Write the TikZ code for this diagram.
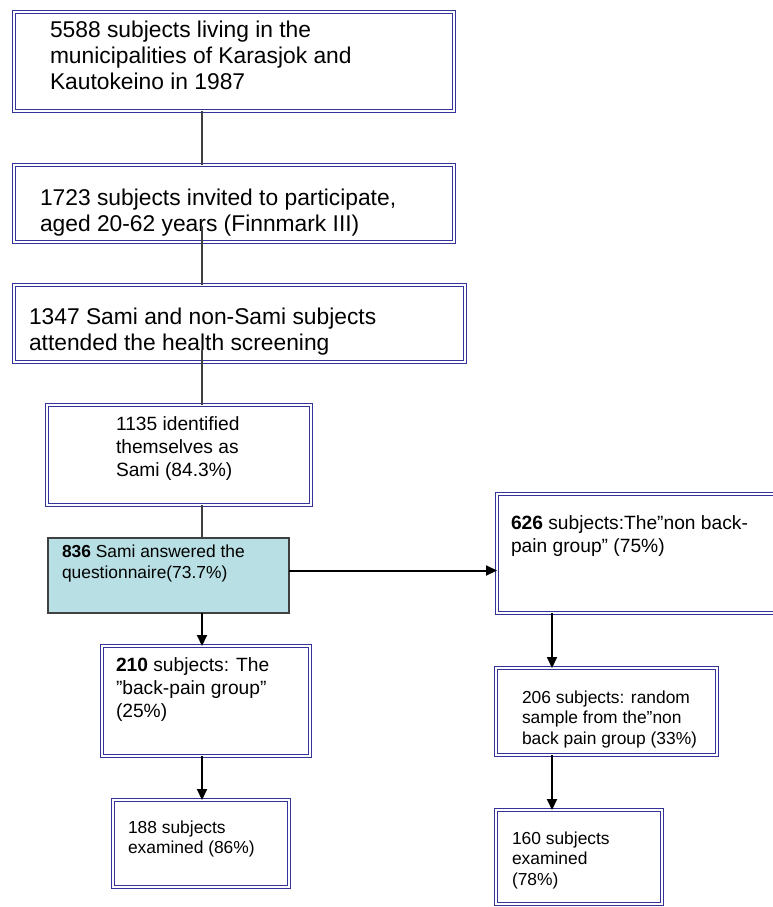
\documentclass[tikz,border=0pt]{standalone}
\usepackage{fontspec}
\setmainfont{Liberation Sans}
\usetikzlibrary{arrows.meta,positioning}
\definecolor{frameblue}{RGB}{51,51,153}
\definecolor{aqua}{RGB}{184,223,227}

\begin{document}
\begin{tikzpicture}[x=1pt,y=-1pt,every node/.style={outer sep=0pt},
    box/.style={draw=frameblue,double=white,line width=1.7pt,double
    distance=1.5pt,fill=white,anchor=north west,inner sep=0pt},
    shaded/.style={draw=black!75,line width=1.2pt,fill=aqua,anchor=north
    west,inner sep=0pt},
    txt/.style={inner sep=0pt,align=left,execute at begin node=\strut},
    big/.style={txt,font=\fontsize{22.8}{26}\selectfont},
    mid/.style={txt,font=\fontsize{19.2}{23}\selectfont},
    small/.style={txt,font=\fontsize{17.4}{20.5}\selectfont},
    link/.style={draw=black!75,line width=1.5pt},
    arr/.style={line width=2pt,-{Triangle[length=11pt,width=10pt]}}]

  \useasboundingbox (0,0) rectangle (772,907);

  % left column
  \node[box,minimum width=440pt,minimum height=99pt] (b1) at (14,12) {};
  \node[box,minimum width=440pt,minimum height=77pt] (b2) at (14,165) {};
  \node[box,minimum width=451pt,minimum height=77pt] (b3) at (14,285) {};
  \node[box,minimum width=264pt,minimum height=100pt] (b4) at (47,405) {};
  \node[shaded,minimum width=241pt,minimum height=75pt] (b5) at (48,538) {};
  \node[box,minimum width=208pt,minimum height=110pt] (b6) at (102,646) {};
  \node[box,minimum width=176pt,minimum height=87pt] (b7) at (113,800) {};
  % right column
  \node[box,minimum width=320pt,minimum height=119pt] (b8) at (497,494) {};
  \node[box,minimum width=221pt,minimum height=87pt] (b9) at (496,668) {};
  \node[box,minimum width=166pt,minimum height=94pt] (b10) at (496,810) {};

  \node[big,below right=9pt and 36pt of b1.north west] (t1)
   {5588 subjects living in the\\municipalities of Karasjok and\\Kautokeino in 1987};
  \node[big,below right=23.8pt and 26pt of b2.north west] (t2)
   {1723 subjects invited to participate,\\aged 20-62 years (Finnmark III)};
  \node[big,below right=22.8pt and 15pt of b3.north west] (t3)
   {1347 Sami and non-Sami subjects\\attended the health screening};
  \node[mid,below right=12pt and 69pt of b4.north west] (t4)
   {1135 identified\\themselves as\\Sami (84.3\%)};
  \node[small,below right=7pt and 14pt of b5.north west] (t5)
   {\textbf{836} Sami answered the\\questionnaire(73.7\%)};
  \node[mid,below right=11.5pt and 14pt of b6.north west] (t6)
   {\textbf{210} subjects: The\\”back-pain group”\\(25\%)};
  \node[small,below right=20.6pt and 15pt of b7.north west] (t7)
   {188 subjects\\examined (86\%)};
  \node[mid,below right=21.9pt and 14pt of b8.north west] (t8)
   {\textbf{626} subjects:The”non back-\\pain group” (75\%)};
  \node[small,below right=22.6pt and 26pt of b9.north west] (t9)
   {206 subjects: random\\sample from the”non\\back pain group (33\%)};
  \node[small,below right=21.6pt and 16pt of b10.north west] (t10)
   {160 subjects\\examined\\(78\%)};

  \coordinate (lspine) at (202,0);
  \coordinate (rspine) at (552,0);
  \draw[link] (b1.south -| lspine) -- (b2.north -| lspine);
  \draw[link] ([yshift=16pt]b2.south -| lspine) -- (b3.north -| lspine);
  \draw[link] ([yshift=12pt]b3.south -| lspine) -- (b4.north -| lspine);
  \draw[link] (b4.south -| lspine) -- (b5.north -| lspine);
  \draw[arr] (b5.south -| lspine) -- (b6.north -| lspine);
  \draw[arr] (b6.south -| lspine) -- (b7.north -| lspine);
  \draw[arr] ([yshift=5pt]b5.east) -- ([yshift=5pt]b5.east -| b8.west);
  \draw[arr] (b8.south -| rspine) -- (b9.north -| rspine);
  \draw[arr] (b9.south -| rspine) -- (b10.north -| rspine);
\end{tikzpicture}
\end{document}
